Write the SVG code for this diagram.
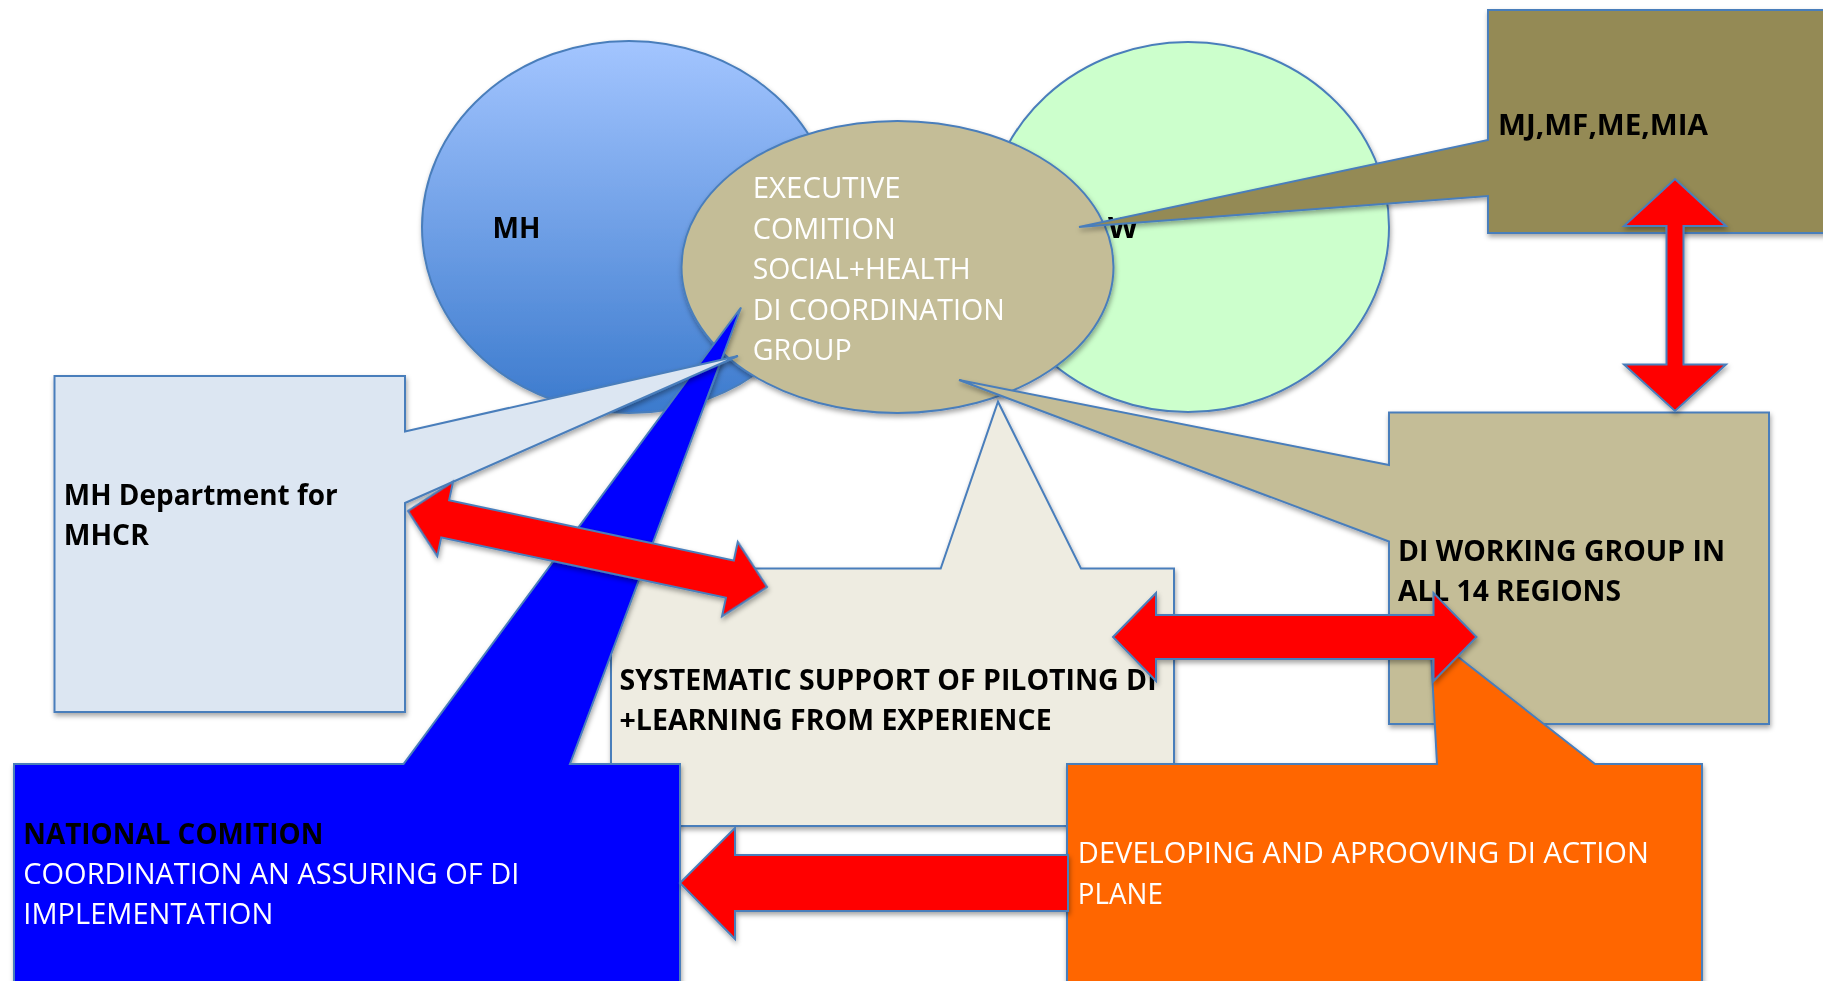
<svg xmlns="http://www.w3.org/2000/svg" width="1823" height="981" viewBox="0 0 1823 981">
<defs>
<linearGradient id="gMH" x1="0" y1="0" x2="0" y2="1">
<stop offset="0" stop-color="#A3C5FF"/>
<stop offset="1" stop-color="#3B7ACD"/>
</linearGradient>
<filter id="sh" x="-10%" y="-10%" width="120%" height="130%">
<feDropShadow dx="1" dy="3" stdDeviation="2.5" flood-color="#000" flood-opacity="0.35"/>
</filter>
</defs>
<style>
.s{stroke:#4A7EBB;stroke-width:2;stroke-linejoin:miter}
.t{font-family:"Open Sans","Liberation Sans",sans-serif;font-size:29px}
.b{font-weight:bold;fill:#000}
.w{fill:#fff}
.arr{fill:#FF0000;stroke:#4A7EBB;stroke-width:2;stroke-linejoin:miter}
</style>
<rect width="1823" height="981" fill="#fff"/>
<g id="node-mh" filter="url(#sh)">
<ellipse class="s" cx="629" cy="227" rx="207" ry="186" fill="url(#gMH)"/>
<text class="t b" x="492.5" y="238" textLength="48" lengthAdjust="spacingAndGlyphs">MH</text>
</g>
<g id="node-sw" filter="url(#sh)">
<ellipse class="s" cx="1188" cy="227" rx="201" ry="185" fill="#CCFFCC"/>
<text class="t b" x="1108" y="238" textLength="30" lengthAdjust="spacingAndGlyphs">W</text>
</g>
<g id="node-exec" filter="url(#sh)">
<ellipse class="s" cx="897.5" cy="267" rx="216" ry="146" fill="#C4BD97"/>
<text class="t w" x="752.7" y="198" textLength="148" lengthAdjust="spacingAndGlyphs">EXECUTIVE</text>
<text class="t w" x="752.7" y="238.5" textLength="143" lengthAdjust="spacingAndGlyphs">COMITION</text>
<text class="t w" x="752.7" y="279" textLength="218" lengthAdjust="spacingAndGlyphs">SOCIAL+HEALTH</text>
<text class="t w" x="752.7" y="319.5" textLength="252" lengthAdjust="spacingAndGlyphs">DI COORDINATION</text>
<text class="t w" x="752.7" y="360" textLength="99" lengthAdjust="spacingAndGlyphs">GROUP</text>
</g>
<g id="node-ministries" filter="url(#sh)">
<path class="s" fill="#948A54" d="M1488,10 H1830 V233 H1488 V196 L1079,227 L1488,140 Z"/>
<text class="t b" x="1498" y="135" textLength="210" lengthAdjust="spacingAndGlyphs">MJ,MF,ME,MIA</text>
</g>
<g id="node-regions" filter="url(#sh)">
<path class="s" fill="#C4BD97" d="M1389,412.5 H1769 V724 H1389 V541.5 L959,380 L1389,465 Z"/>
<text class="t b" x="1398" y="561" textLength="327" lengthAdjust="spacingAndGlyphs">DI WORKING GROUP IN</text>
<text class="t b" x="1398" y="601" textLength="223" lengthAdjust="spacingAndGlyphs">ALL 14 REGIONS</text>
</g>
<g id="node-systematic" filter="url(#sh)">
<path class="s" fill="#EEECE1" d="M611,568.5 H940.7 L998,401.7 L1081,568.5 H1174 V826 H611 Z"/>
<text class="t b" x="619.6" y="690" textLength="537" lengthAdjust="spacingAndGlyphs">SYSTEMATIC SUPPORT OF PILOTING DI</text>
<text class="t b" x="619.6" y="729.5" textLength="432" lengthAdjust="spacingAndGlyphs">+LEARNING FROM EXPERIENCE</text>
</g>
<g id="node-national" filter="url(#sh)">
<path class="s" fill="#0000FF" d="M14,764 H403.5 L741,307.5 L570,764 H680 V990 H14 Z"/>
<text class="t b" x="23.3" y="843.5" textLength="300" lengthAdjust="spacingAndGlyphs">NATIONAL COMITION</text>
<text class="t w" x="23.3" y="883.5" textLength="496" lengthAdjust="spacingAndGlyphs">COORDINATION AN ASSURING OF DI</text>
<text class="t w" x="23.3" y="924" textLength="250" lengthAdjust="spacingAndGlyphs">IMPLEMENTATION</text>
</g>
<g id="node-mhdept" filter="url(#sh)">
<path class="s" fill="#DCE6F2" d="M54.5,376 H405 V431.5 L738,356 L405,503 V712 H54.5 Z"/>
<text class="t b" x="63.8" y="505" textLength="274" lengthAdjust="spacingAndGlyphs">MH Department for</text>
<text class="t b" x="63.8" y="544.5" textLength="85" lengthAdjust="spacingAndGlyphs">MHCR</text>
</g>
<g id="node-action" filter="url(#sh)">
<path class="s" fill="#FF6600" d="M1067,764 H1437 L1430,635 L1595,764 H1702 V990 H1067 Z"/>
<text class="t w" x="1077.8" y="863" textLength="571" lengthAdjust="spacingAndGlyphs">DEVELOPING AND APROOVING DI ACTION</text>
<text class="t w" x="1077.8" y="903.5" textLength="85" lengthAdjust="spacingAndGlyphs">PLANE</text>
</g>
<g id="connectors" filter="url(#sh)">
<path class="arr" d="M1675,179 L1726,226 H1683.5 V364.5 H1726 L1675,411 L1624,364.5 H1666.5 V226 H1624 Z"/>
<path class="arr" transform="translate(408,511) rotate(11.95)" d="M0,0 L38,-38 V-19 H329 V-38 L367,0 L329,38 V19 H38 V38 Z"/>
<path class="arr" d="M1113,637 L1156,593 V615 H1433.5 V593 L1476.5,637 L1433.5,681 V659 H1156 V681 Z"/>
<path class="arr" d="M680,883 L735,828 V855 H1068 V911 H735 V939 Z"/>
</g>
</svg>
